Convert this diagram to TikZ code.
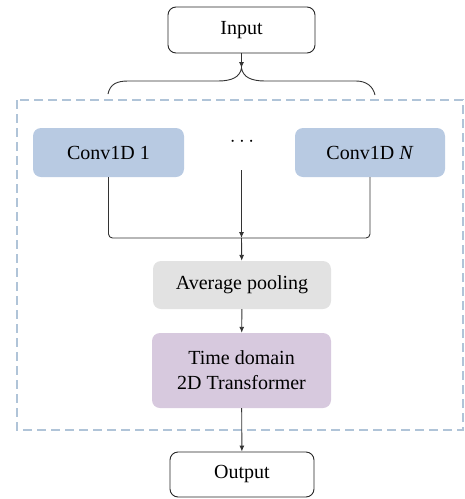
\documentclass[tikz,border=0pt]{standalone}
\usepackage{fontspec}
\setmainfont{Liberation Serif}
\usepackage{tikz}
\usetikzlibrary{positioning}
\usetikzlibrary{arrows.meta}
\definecolor{convblue}{RGB}{184,202,226}
\definecolor{poolgray}{RGB}{226,226,226}
\definecolor{transpurple}{RGB}{215,201,222}
\definecolor{dashblue}{RGB}{176,196,216}
\tikzset{
    block/.style={rounded corners=8pt, inner sep=0pt, align=center,
        font=\fontsize{20}{25}\selectfont},
    iobox/.style={block, draw=black!85, line width=0.9pt, fill=white},
    convbox/.style={block, fill=convblue, minimum width=151pt, minimum height=49pt},
    link/.style={line width=0.9pt, draw=black!80, >={Latex[length=6pt,width=5pt]}}}

\begin{document}
\begin{tikzpicture}[x=1pt, y=-1pt]
        \useasboundingbox (0,0) rectangle (465,499);

            % dashed frame around the encoder
            \draw[dashblue, line width=2.3pt, dash pattern=on 9pt off 5pt] (17,100) rectangle (463,430);

            \node[iobox, minimum width=147pt, minimum height=46pt] (In) at (241.5,30) {Input};
            \node[convbox] (C1) at (108.5,152.5) {Conv1D 1};
            \node[convbox, minimum width=150pt] (CN) at (370,152.5) {Conv1D \textit{N}};
            \node[font=\fontsize{20}{25}\selectfont] (Dots) at (242,142) {$\cdots$};
            \node[block, fill=poolgray, minimum width=178pt, minimum height=48pt] (Pool) at (242,285) {Average pooling};
            \node[block, fill=transpurple, minimum width=179pt, minimum height=75pt] (TF) at (241.5,370.5) {Time domain\\2D Transformer};
            \node[iobox, minimum width=144pt, minimum height=45pt] (Out) at (242,474.5) {Output};

            \coordinate (Apex) at (241.5,68);
            \coordinate (Mid) at (241.5,170);
            \coordinate (Join) at (241.5,238);

            % brace below the input
            \draw[link] (108,94) .. controls (110,84) and (117,81) .. (128,81) -- (218,81)
                .. controls (232,81) and (240,77) .. (Apex)
                .. controls (243,77) and (251,81) .. (265,81) -- (356,81)
                .. controls (366,81) and (373,86) .. (375,95);
            \draw[link, ->] (In) -- (Apex);

            % merge of the branches
            \draw[link, rounded corners=4pt] (C1.south) |- (Join);
            \draw[link, rounded corners=4pt] (CN.south) |- (Join);
            \draw[link, ->] (Mid) -- (Join);
            \draw[link, ->] (Join) -- (Pool);
            \draw[link, ->] (Pool) -- (TF);
            \draw[link, ->] (TF) -- (Out);

        \end{tikzpicture}
\end{document}
